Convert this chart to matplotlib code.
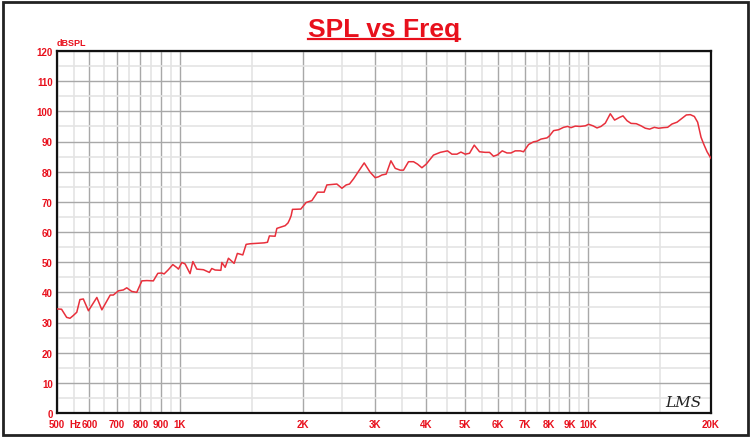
import matplotlib.pyplot as plt
from matplotlib.ticker import FixedLocator, NullFormatter
from matplotlib.patches import Rectangle
from matplotlib.lines import Line2D

RED = "#e8101c"
FONT = ["Liberation Sans Narrow", "Liberation Sans", "DejaVu Sans"]

freq = [500, 513, 528, 538, 548, 559, 569, 580, 597, 626, 644, 675, 687, 707, 727,
        741, 762, 784, 807, 830, 861, 883, 903, 915, 937, 961, 983, 992, 1011, 1030,
        1059, 1076, 1100, 1142, 1181, 1197, 1220, 1260, 1267, 1291, 1315, 1358, 1383,
        1426, 1453, 1486, 1572, 1608, 1639, 1657, 1711, 1728, 1811, 1840, 1858, 1873,
        1887, 1978, 2039, 2105, 2173, 2256, 2291, 2424, 2494, 2555, 2603, 2662, 2754,
        2828, 2925, 3009, 3066, 3125, 3202, 3288, 3369, 3465, 3530, 3631, 3735, 3821,
        3916, 4013, 4181, 4343, 4525, 4639, 4771, 4880, 5000, 5123, 5261, 5420, 5597,
        5735, 5866, 6000, 6161, 6327, 6472, 6630, 6820, 6948, 7148, 7352, 7494, 7666,
        7930, 8047, 8230, 8466, 8708, 8907, 9080, 9302, 9569, 9843, 10028, 10280,
        10515, 10755, 11019, 11333, 11612, 11944, 12175, 12453, 12737, 13124, 13477,
        13808, 14147, 14527, 14884, 15310, 15660, 16053, 16512, 16985, 17402, 17799,
        18205, 18548, 18908, 19187, 19560, 20000]
spl = [34.5, 34.4, 31.7, 31.4, 32.3, 33.4, 37.6, 37.8, 33.9, 38.3, 34.2, 39.1, 39.1,
       40.5, 40.8, 41.5, 40.3, 40.0, 43.8, 43.9, 43.8, 46.3, 46.4, 46.1, 47.5, 49.2,
       48.2, 47.7, 49.9, 49.4, 46.2, 50.2, 47.7, 47.5, 46.6, 47.9, 47.4, 47.3, 49.9,
       48.3, 51.3, 49.6, 52.9, 52.4, 55.9, 56.1, 56.3, 56.4, 56.6, 58.7, 58.6, 61.2,
       62.1, 63.0, 64.2, 65.4, 67.5, 67.6, 69.8, 70.4, 73.2, 73.2, 75.6, 75.9, 74.5,
       75.6, 75.9, 77.6, 80.6, 82.9, 79.8, 78.0, 78.3, 78.9, 79.2, 83.6, 81.1, 80.5,
       80.5, 83.3, 83.3, 82.5, 81.3, 82.5, 85.5, 86.4, 86.9, 85.8, 85.8, 86.5, 85.8,
       86.1, 88.8, 86.6, 86.4, 86.4, 85.1, 85.6, 86.9, 86.2, 86.2, 86.9, 86.9, 86.6,
       89.0, 89.9, 90.1, 90.8, 91.2, 91.9, 93.6, 93.9, 94.7, 95.0, 94.6, 95.1, 95.0,
       95.2, 95.7, 95.2, 94.5, 95.0, 96.1, 99.2, 97.1, 98.0, 98.5, 96.9, 96.0, 95.9,
       95.2, 94.4, 94.1, 94.7, 94.4, 94.6, 94.7, 95.8, 96.4, 97.7, 98.8, 98.9, 98.3,
       96.4, 91.4, 89.2, 86.6, 84.4]

xticks = [500, 600, 700, 800, 900, 1000, 2000, 3000, 4000, 5000, 6000, 7000, 8000,
          9000, 10000, 20000]
xlabels = ["500", "600", "700", "800", "900", "1K", "2K", "3K", "4K", "5K", "6K",
           "7K", "8K", "9K", "10K", "20K"]
xminor = [550, 650, 750, 850, 950, 1500, 2500, 3500, 4500, 5500, 6500, 7500, 8500,
          9500, 15000]
yticks = list(range(0, 121, 10))
yminor = list(range(5, 120, 10))

fig = plt.figure(figsize=(7.51, 4.39), dpi=100)
ax = fig.add_axes([57 / 751, 1 - 414 / 439, 654 / 751, 362 / 439])

ax.plot(freq, spl, color="#e8303c", lw=1.1, zorder=3)

ax.set_xscale("log")
ax.set_xlim(500, 20000)
ax.set_ylim(0, 120)
ax.xaxis.set_major_locator(FixedLocator(xticks))
ax.xaxis.set_minor_locator(FixedLocator(xminor))
ax.xaxis.set_minor_formatter(NullFormatter())
ax.set_xticklabels(xlabels)
ax.set_yticks(yticks)
ax.yaxis.set_minor_locator(FixedLocator(yminor))

ax.grid(which="major", color="#a8a8a8", lw=1.0)
ax.grid(which="minor", color="#e4e4e4", lw=1.2)
ax.set_axisbelow(True)
ax.tick_params(which="both", length=0)
ax.tick_params(axis="both", labelsize=7, labelcolor=RED)
ax.tick_params(axis="x", pad=4)
ax.tick_params(axis="y", pad=3)
for lab in ax.get_xticklabels() + ax.get_yticklabels():
    lab.set_fontweight("bold")
    lab.set_family(FONT)
for s in ax.spines.values():
    s.set_linewidth(1.6)
    s.set_color("#111111")

ax.text(0.0, 1.012, "dBSPL", transform=ax.transAxes, color=RED, fontsize=6.5,
        fontweight="bold", family=FONT, ha="left", va="bottom")
ax.annotate("Hz", xy=(600, 0), xycoords="data", xytext=(-5.8, -4),
            textcoords="offset points", color=RED, fontsize=7, fontweight="bold",
            family=FONT, ha="right", va="top")
ax.text(0.985, 0.012, "LMS", transform=ax.transAxes, color="#222222", fontsize=11,
        fontstyle="italic", family="DejaVu Serif", ha="right", va="bottom")

# title with underline
title = fig.text(384 / 751, 1 - 37 / 439, "SPL vs Freq", color=RED, fontsize=19,
                 fontweight="bold", family=FONT, ha="center", va="baseline")
fig.canvas.draw()
bb = title.get_window_extent()
fig.add_artist(Line2D([bb.x0 / 751, bb.x1 / 751], [1 - 40 / 439, 1 - 40 / 439],
                      color=RED, lw=1.6, transform=fig.transFigure))

# outer frame
fig.add_artist(Rectangle((3 / 751, 3 / 439), 745 / 751, 433 / 439, fill=False,
                         edgecolor="#222222", lw=2, transform=fig.transFigure))

fig.savefig("out.png", dpi=100)
